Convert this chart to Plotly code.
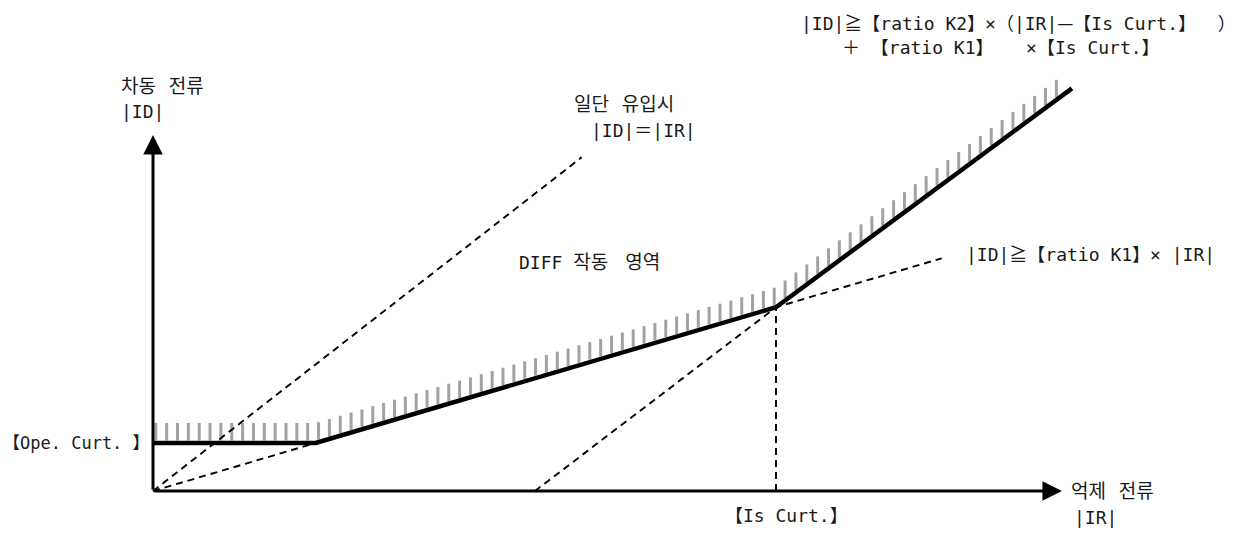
import numpy as np
import plotly.graph_objects as go

# ---- characteristic values (diagram units) ----
ope_curt = 9.9          # 【Ope. Curt.】
is_curt = 100.0         # 【Is Curt.】
ratio_k1 = 0.379        # 【ratio K1】
ratio_k2 = 0.95         # 【ratio K2】
ir_end = 147.5          # end of drawn characteristic
ir_axis_max = 145.9     # x-axis arrow tip
id_axis_max = 73.4      # y-axis arrow tip
inrush_end = 68.8       # |ID| = |IR| guide end
k1_guide_end = 126.6    # |ID| = K1*|IR| guide end
offset_start = 61.3     # parallel guide start on |IR| axis

# ---- pixel scale (layout only) ----
W, H = 1240, 536
ox, oy = 153, 491
sx, sy = 6.23, 4.85

def curve(ir):
    ir = np.asarray(ir, dtype=float)
    knee1 = ope_curt / ratio_k1
    return np.where(ir < knee1, ope_curt,
                    np.where(ir < is_curt, ratio_k1 * ir,
                             ratio_k1 * is_curt + ratio_k2 * (ir - is_curt)))

knee1 = ope_curt / ratio_k1
curve_x = [0, knee1, is_curt, ir_end]
curve_y = list(curve(curve_x))

fig = go.Figure()

# hatching above the characteristic
hx, hy = [], []
for x in np.arange(0.45, ir_axis_max - 0.5, 10.85 / sx):
    c = float(curve(x))
    hx += [x, x, None]
    hy += [c + 2.5 / sy, c + 20 / sy, None]
fig.add_trace(go.Scatter(x=hx, y=hy, mode="lines",
                         line=dict(color="#a2a2a2", width=3), hoverinfo="skip"))

dl = dict(color="black", width=1.9, dash="7px,5px")
fig.add_trace(go.Scatter(x=[0, inrush_end], y=[0, inrush_end], mode="lines", line=dl))
fig.add_trace(go.Scatter(x=[0, k1_guide_end], y=[0, ratio_k1 * k1_guide_end], mode="lines", line=dl))
fig.add_trace(go.Scatter(x=[offset_start, is_curt], y=[0, ratio_k1 * is_curt], mode="lines", line=dl))
fig.add_trace(go.Scatter(x=[is_curt, is_curt], y=[0, ratio_k1 * is_curt], mode="lines", line=dl))

# characteristic
fig.add_trace(go.Scatter(x=curve_x, y=curve_y, mode="lines",
                         line=dict(color="black", width=4.5)))

# axes with arrows
for (x, y) in [(ir_axis_max, 0), (0, id_axis_max)]:
    fig.add_annotation(x=x, y=y, ax=0, ay=0, xref="x", yref="y", axref="x", ayref="y",
                       text="", showarrow=True, arrowhead=2, arrowsize=1.3,
                       arrowwidth=3, arrowcolor="black")

MONO = "DejaVu Sans Mono, Noto Sans CJK KR, sans-serif"
CJK = "Noto Sans CJK KR, sans-serif"

def label(text, px, py, family=MONO, size=18):
    fig.add_annotation(x=px / W, y=1 - py / H, xref="paper", yref="paper",
                       text=text, showarrow=False, xanchor="left", yanchor="middle",
                       font=dict(family=family, size=size, color="#1a1a1a"))

def cj(s):
    return '<span style="font-family:Noto Sans CJK KR">' + s + '</span>'

def hg(s):
    return '<span style="font-family:Noto Sans CJK KR;font-size:19px">' + s + '</span>'

label("|ID|" + cj("≧") + "【ratio K2】×（|IR|" + cj("—") + "【Is Curt.】  ）", 799, 22)
label("＋ 【ratio K1】   ×【Is Curt.】", 840, 47)
label("차동   전류", 119, 84, CJK, 19)
label("|ID|", 119, 112)
label("일단   유입시", 572, 103, CJK, 19)
label("|ID|＝|IR|", 589, 130)
label("DIFF " + hg("작동    영역"), 517, 260)
label("|ID|" + cj("≧") + "【ratio K1】× |IR|", 964, 253)
label("【Ope. Curt. 】", 1, 443, MONO, 17)
label("【Is Curt.】", 723, 515)
label("억제   전류", 1069, 489, CJK, 19)
label("|IR|", 1072, 517)

fig.update_layout(
    width=W, height=H, margin=dict(l=0, r=0, t=0, b=0),
    paper_bgcolor="white", plot_bgcolor="white", showlegend=False,
    xaxis=dict(range=[-ox / sx, (W - ox) / sx], visible=False, fixedrange=True),
    yaxis=dict(range=[-(H - oy) / sy, oy / sy], visible=False, fixedrange=True),
)

fig.write_html("out.html", config={"displayModeBar": False},
               post_script="document.body.style.margin='0';document.body.style.overflow='hidden';")
